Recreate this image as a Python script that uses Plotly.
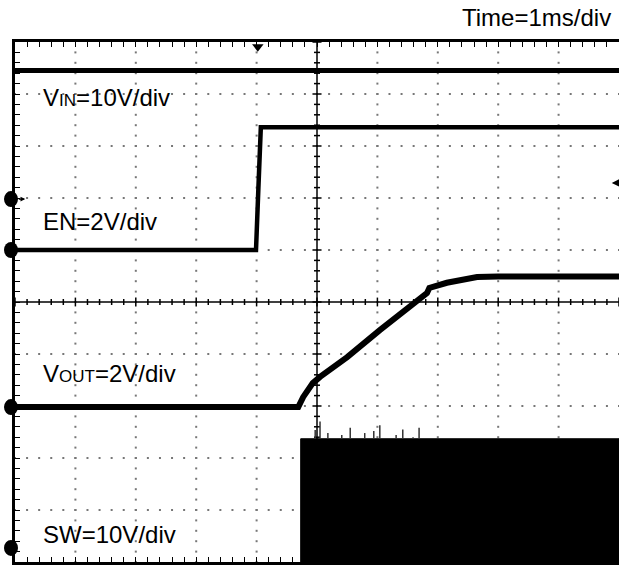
import numpy as np
import plotly.graph_objects as go

# ---- data (time in divisions, amplitude in divisions; 1 div = 1 ms horizontally) ----
vin_t = [0.0, 10.0]
vin_v = [4.45, 4.45]

en_t = [0.0, 3.99, 4.03, 4.07, 10.0]
en_v = [1.0, 1.0, 2.2, 3.36, 3.36]

vout_t = [0.0, 4.69, 4.77, 4.93, 5.05, 5.50, 6.04, 6.59, 6.75, 6.82, 6.86, 7.15, 7.65, 8.0, 10.0]
vout_v = [-2.02, -2.02, -1.83, -1.56, -1.44, -1.06, -0.54, -0.02, 0.12, 0.17, 0.27, 0.37, 0.48, 0.49, 0.49]

sw_start = 4.73
sw_high = -2.63
sw_low = -5.0
spike_t = [4.97, 5.05, 5.18, 5.41, 5.55, 5.79, 5.94, 6.04, 6.31, 6.42, 6.59, 6.69]
spike_v = [-2.46, -2.30, -2.52, -2.56, -2.42, -2.52, -2.48, -2.37, -2.56, -2.45, -2.60, -2.42]

ground_v = [1.98, 1.0, -2.02, -4.73]   # channel ground reference markers
trig_t = 4.02                            # trigger position marker
trig_level = 2.29                        # trigger level marker

labels = [
    ("V<span style='font-size:17px'>IN</span>=10V/div", 3.93),
    ("EN=2V/div", 1.55),
    ("V<span style='font-size:17px'>OUT</span>=2V/div", -1.38),
    ("SW=10V/div", -4.47),
]

FONT = "Arial, 'Liberation Sans', sans-serif"

fig = go.Figure()

# dotted graticule
gx, gy = [], []
for i in [1, 2, 3, 4, 6, 7, 8, 9]:
    for y in np.arange(-5, 5.001, 0.2):
        gx.append(i); gy.append(y)
for j in [-4, -3, -2, -1, 1, 2, 3, 4]:
    for x in np.arange(0, 10.001, 0.2):
        gx.append(x); gy.append(j)
fig.add_trace(go.Scatter(x=gx, y=gy, mode="markers",
                         marker=dict(symbol="square", size=2, color="#777777", line=dict(width=0)),
                         hoverinfo="skip", showlegend=False))

# center axes with minor ticks
cx, cy = [], []
for y in np.arange(-5, 5.001, 0.2):
    d = 0.075 if abs(y - round(y)) < 1e-6 else 0.05
    cx += [5 - d, 5 + d, None]; cy += [y, y, None]
for x in np.arange(0, 10.001, 0.2):
    d = 0.085 if abs(x - round(x)) < 1e-6 else 0.058
    cx += [x, x, None]; cy += [-d, d, None]
cx += [5, 5, None, 0, 10]; cy += [-5, 5, None, 0, 0]
fig.add_trace(go.Scatter(x=cx, y=cy, mode="lines", line=dict(color="black", width=1.5),
                         hoverinfo="skip", showlegend=False))

# SW block
fig.add_trace(go.Scatter(x=[sw_start, sw_start, 10, 10], y=[sw_low, sw_high, sw_high, sw_low],
                         mode="lines", fill="toself", fillcolor="black",
                         line=dict(color="black", width=1), hoverinfo="skip", showlegend=False))
sx, sy = [], []
for t, v in zip(spike_t, spike_v):
    sx += [t, t, None]; sy += [sw_high, v, None]
fig.add_trace(go.Scatter(x=sx, y=sy, mode="lines", line=dict(color="#333333", width=1.5),
                         hoverinfo="skip", showlegend=False))

# waveforms
fig.add_trace(go.Scatter(x=vin_t, y=vin_v, mode="lines", line=dict(color="black", width=5),
                         hoverinfo="skip", showlegend=False))
fig.add_trace(go.Scatter(x=en_t, y=en_v, mode="lines", line=dict(color="black", width=4.5),
                         hoverinfo="skip", showlegend=False))
fig.add_trace(go.Scatter(x=vout_t, y=vout_v, mode="lines", line=dict(color="black", width=6),
                         hoverinfo="skip", showlegend=False))

# ground markers (on the left border), drawn as pixel-sized ellipses anchored to the y values
for g in ground_v:
    fig.add_shape(type="circle", xref="paper", yref="y", xsizemode="pixel", ysizemode="pixel",
                  xanchor=0, yanchor=g, x0=-11, x1=3, y0=-8, y1=8,
                  fillcolor="black", line=dict(color="black", width=0), layer="above")
fig.add_annotation(x=0.17, y=ground_v[0], ax=-8, ay=0, text="", showarrow=True,
                   arrowhead=2, arrowsize=0.8, arrowwidth=1.2, arrowcolor="black")
# trigger marker
fig.add_trace(go.Scatter(x=[trig_t], y=[4.91], mode="markers",
                         marker=dict(symbol="triangle-down", size=10, color="black"),
                         cliponaxis=False, hoverinfo="skip", showlegend=False))

fig.add_annotation(x=9.88, y=trig_level, ax=12, ay=0, text="", showarrow=True,
                   arrowhead=2, arrowsize=1, arrowwidth=1.5, arrowcolor="black")

for txt, yv in labels:
    fig.add_annotation(x=0.43, y=yv, text=txt, showarrow=False, xanchor="left", yanchor="middle",
                       font=dict(family=FONT, size=24, color="black"))

fig.add_annotation(xref="paper", yref="paper", x=0.99, y=1 + (42 - 18) / 520,
                   text="Time=1ms/div", showarrow=False, xanchor="right", yanchor="middle",
                   font=dict(family=FONT, size=24, color="black"))

fig.update_xaxes(range=[0, 10], showgrid=False, zeroline=False, showticklabels=False,
                 showline=True, linecolor="black", linewidth=3, mirror="ticks",
                 ticks="inside", tick0=0, dtick=0.2, ticklen=5, tickwidth=1, tickcolor="black")
fig.update_yaxes(range=[-5, 5], showgrid=False, zeroline=False, showticklabels=False,
                 showline=True, linecolor="black", linewidth=3,
                 ticks="inside", tick0=0, dtick=0.2, ticklen=5, tickwidth=1, tickcolor="black")

fig.update_layout(width=619, height=566, margin=dict(l=15, r=0, t=42, b=4),
                  paper_bgcolor="white", plot_bgcolor="white", showlegend=False)

fig.write_html("out.html", config={"displayModeBar": False},
               post_script="document.body.style.margin='0px';document.body.style.overflow='hidden';")
